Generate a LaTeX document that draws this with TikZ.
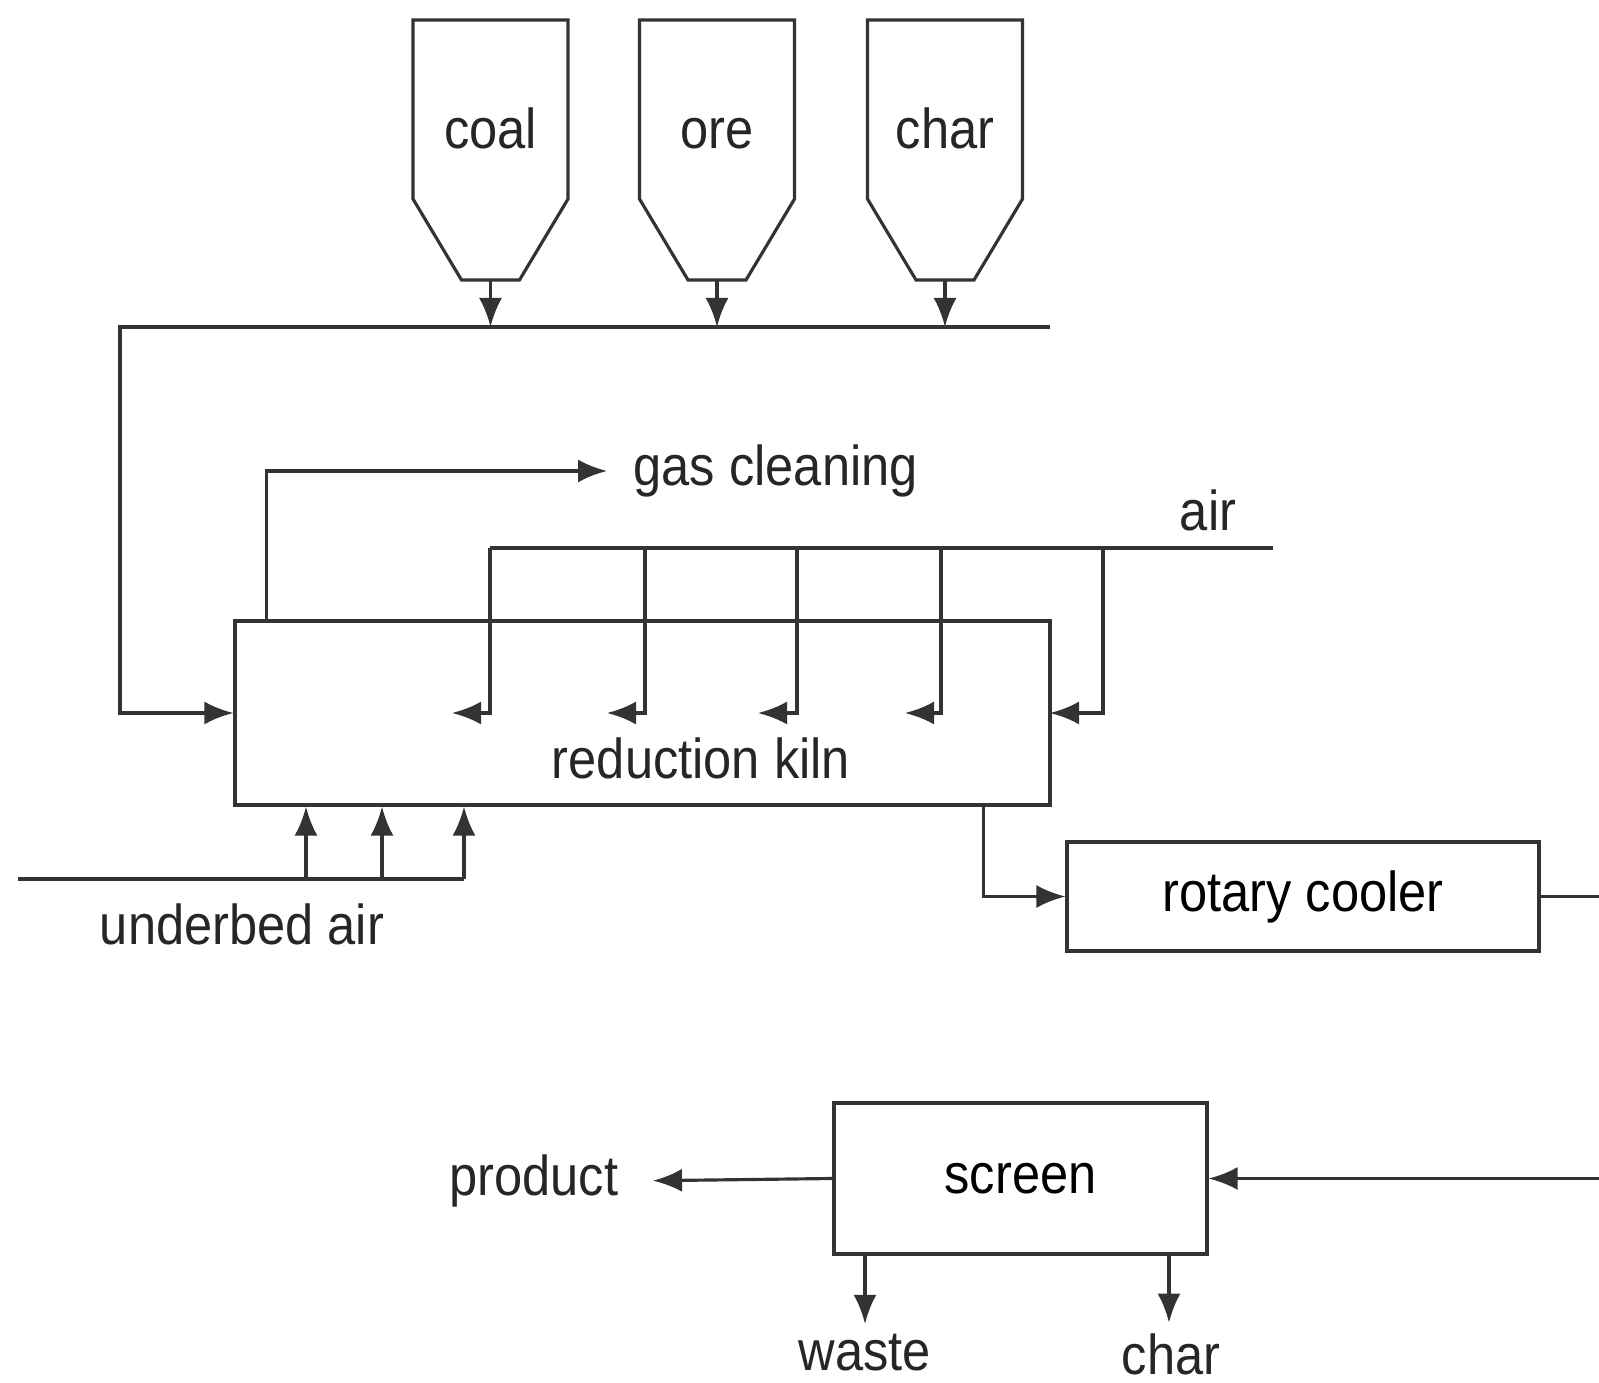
\documentclass[tikz,border=0pt]{standalone}
\usepackage{fontspec}
\setmainfont{Liberation Sans}[FakeStretch = 0.9]
\usetikzlibrary{arrows.meta}
\tikzset{
  pipe/.style = {draw = black!80, line width = .9pt},
  flow/.style = {pipe, -{Latex[length = 2.9mm, width = 2.3mm]}},
  unit/.style = {pipe, inner sep = 0pt},
  tag/.style = {text = black!85, inner sep = .1cm}
}
\begin{document}
\begin{tikzpicture}[font = \fontsize{16}{19}\selectfont]
  \useasboundingbox (0,0) rectangle (15.99,13.82);
  \foreach \n/\t/\x in {coal/coal/4.905, ore/ore/7.17, charin/char/9.45}
    {
      \draw [pipe] ({\x-.775},13.62) -- ({\x-.775},11.83) -- ({\x-.29},11.02)
        -- ({\x+.29},11.02) -- ({\x+.775},11.83) -- ({\x+.775},13.62) -- cycle;
      \node [tag, anchor = base] (\n) at (\x,12.33) {\t};
      \coordinate (\n-out) at (\x,11.02);
    }
  \node [unit, minimum width = 8.15cm, minimum height = 1.84cm] (kiln) at (6.425,6.69) {};
  \node [tag] (kilnlab) at (7.01,6.24) {reduction kiln};
  \coordinate (feedL) at (1.20,10.55);
  \coordinate (feedR) at (10.50,10.55);
  \foreach \n in {coal,ore,charin}
    \draw [flow] (\n-out) -- (\n-out |- feedL);
  \draw [flow] (feedR) -- (feedL) |- (kiln.west);
  \node [tag, anchor = west] (gas) at (6.23,9.11) {gas cleaning};
  \draw [flow, shorten > = .16cm] ([xshift = .33cm]kiln.north west) |- (gas.west);
  \node [tag] (air) at (12.08,8.72) {air};
  \coordinate (airL) at (4.90,8.34);
  \coordinate (airR) at (12.73,8.34);
  \draw [pipe] (airR) -- (airL);
  \foreach \x/\e in {4.90/4.52, 6.45/6.07, 7.97/7.58, 9.41/9.05, 11.03/10.50}
    \draw [flow] (\x,0 |- airL) |- (\e,0 |- kiln.west);
  \node [tag] (ub) at (2.42,4.58) {underbed air};
  \coordinate (ubL) at (0.18,5.03);
  \coordinate (ubR) at (4.64,5.03);
  \draw [pipe] (ubL) -- (ubR);
  \foreach \x in {3.06,3.82,4.64}
    \draw [flow] (\x,0 |- ubL) -- (\x,0 |- kiln.south);
  \node [unit, minimum width = 4.72cm, minimum height = 1.09cm] (cooler) at (13.03,4.855) {rotary cooler};
  \draw [flow] ([xshift = -.68cm]kiln.south east) |- (cooler.west);
  \node [unit, minimum width = 3.73cm, minimum height = 1.51cm] (screen) at (10.205,2.035) {screen};
  \draw [flow] (cooler.east) -- ++(1,0) |- (screen.east);
  \node [tag, anchor = east] (product) at (6.29,2.01) {product};
  \draw [flow, shorten > = .24cm] (screen.west) -- (product.east);
  \node [tag] (waste) at (8.65,0.29) {waste};
  \node [tag] (charout) at (11.71,0.28) {char};
  \draw [flow] (8.65,0 |- screen.south) -- (waste.north);
  \draw [flow] (11.69,0 |- screen.south) -- (11.69,0 |- charout.north);
\end{tikzpicture}
\end{document}
